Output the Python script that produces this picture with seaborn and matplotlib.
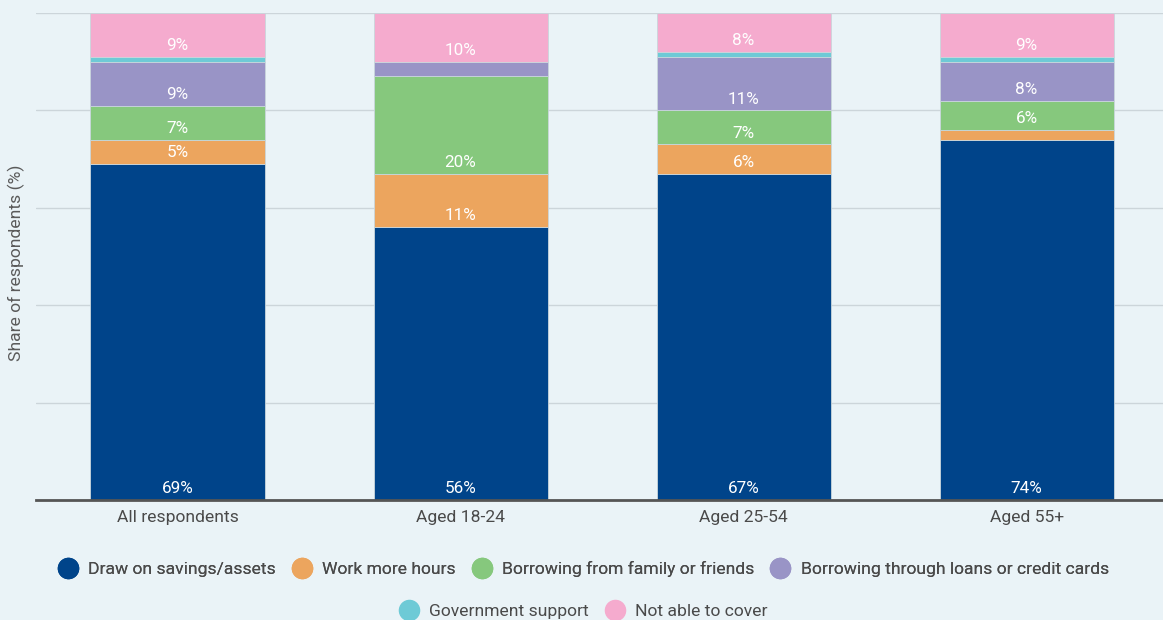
import matplotlib
matplotlib.use("Agg")
import matplotlib.pyplot as plt
from matplotlib.lines import Line2D
import numpy as np
import seaborn as sns

# Age groups on the x axis
groups = ["All respondents", "Aged 18-24", "Aged 25-54", "Aged 55+"]

# Share of respondents (%) choosing each way to cover an unexpected expense
savings = [69, 56, 67, 74]
work_hours = [5, 11, 6, 2]
family_friends = [7, 20, 7, 6]
loans_cards = [9, 3, 11, 8]
government = [1, 0, 1, 1]
not_able = [9, 10, 8, 9]

series_names = [
    "Draw on savings/assets",
    "Work more hours",
    "Borrowing from family or friends",
    "Borrowing through loans or credit cards",
    "Government support",
    "Not able to cover",
]
series_values = [savings, work_hours, family_friends, loans_cards, government, not_able]
colors = ["#00448A", "#ECA55E", "#86C87D", "#9994C6", "#6ECAD6", "#F5ABCE"]

y_ticks = [0, 20, 40, 60, 80, 100]

bg = "#EAF3F7"
text_dark = "#4A4A4A"

sns.set_theme(style="white")
plt.rcParams["font.family"] = ["Roboto", "DejaVu Sans"]

fig = plt.figure(figsize=(11.63, 6.2), dpi=100, facecolor=bg)
ax = fig.add_axes([36 / 1163, 120 / 620, 1127 / 1163, 487 / 620])
ax.set_facecolor(bg)

bottom = np.zeros(len(groups))
for name, vals, col in zip(series_names, series_values, colors):
    vals = np.asarray(vals, dtype=float)
    sns.barplot(
        x=groups, y=vals, color=col, ax=ax, width=0.615,
        bottom=bottom, edgecolor="#C9D6DC", linewidth=0.6,
        saturation=1, errorbar=None, order=groups,
    )
    # value labels sit just above the base of each segment
    for i, (v, b) in enumerate(zip(vals, bottom)):
        if v >= 5:
            ax.annotate(
                f"{int(v)}%", xy=(i, b), xytext=(0, 8.2),
                textcoords="offset points", ha="center", va="center",
                color="white", fontsize=12.3,
            )
    bottom = bottom + vals

ax.set_ylim(0, 100)
ax.set_xlim(-0.5, 3.482)
ax.set_yticks(y_ticks)
ax.set_yticklabels([])
ax.tick_params(axis="y", length=0)
ax.tick_params(axis="x", length=0, pad=7.5, labelsize=12.6, labelcolor=text_dark)
ax.yaxis.grid(True, color="#CCD5DA", linewidth=1)
ax.set_axisbelow(True)
for side in ["top", "right", "left"]:
    ax.spines[side].set_visible(False)
ax.spines["bottom"].set_color("#555555")
ax.spines["bottom"].set_linewidth(2)
ax.spines["bottom"].set_zorder(5)

ax.set_ylabel("Share of respondents (%)", fontsize=12.6, color="#5A5A5A")
ax.yaxis.set_label_coords(-11 / 1127, 0.487)
ax.set_xlabel("")

handles = [
    Line2D([], [], marker="o", linestyle="", markersize=14.5,
           markerfacecolor=c, markeredgecolor=c)
    for c in colors
]

leg_kw = dict(frameon=False, fontsize=12.6, labelcolor=text_dark,
              handlelength=1.0, handletextpad=0.65, columnspacing=1.0,
              loc="center")
leg1 = fig.legend(handles[:4], series_names[:4], ncol=4,
                  bbox_to_anchor=(0.502, 0.082), **leg_kw)
fig.add_artist(leg1)
fig.legend(handles[4:], series_names[4:], ncol=2,
           bbox_to_anchor=(0.502, 0.0145), **leg_kw)

fig.savefig("out.png", dpi=100, facecolor=bg)
